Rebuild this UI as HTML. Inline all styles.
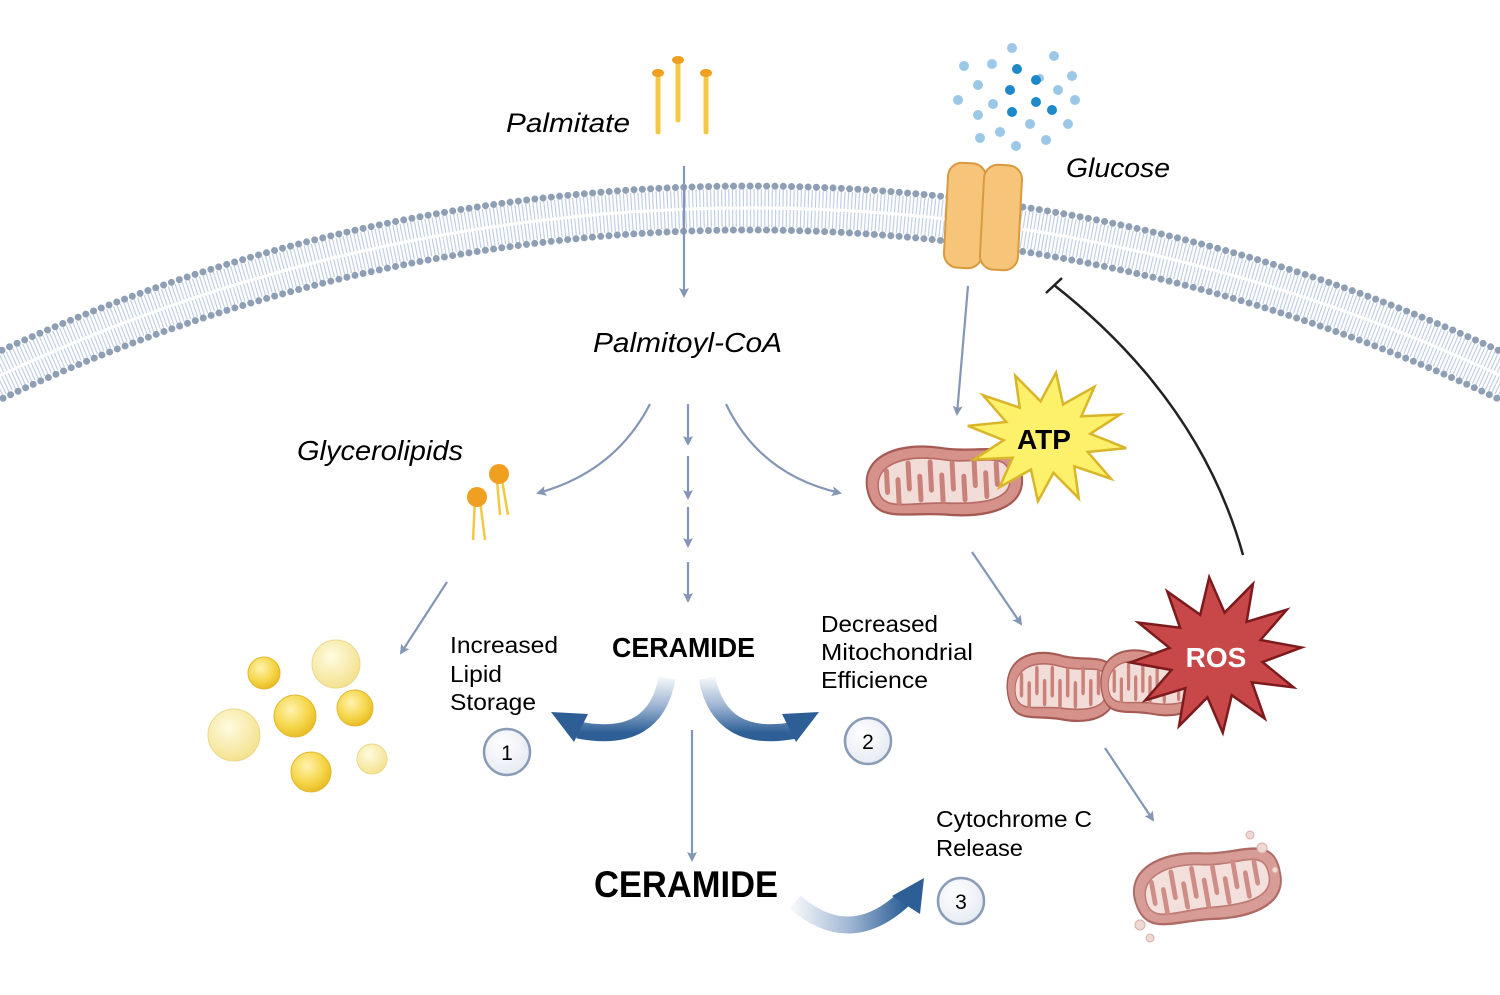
<!DOCTYPE html>
<html><head><meta charset="utf-8"><style>
html,body{margin:0;padding:0;background:#fff;width:1500px;height:995px;overflow:hidden;}
svg{display:block;font-family:"Liberation Sans",sans-serif;}
</style></head><body>
<svg width="1500" height="995" viewBox="0 0 1500 995" xmlns="http://www.w3.org/2000/svg">
<defs>
<marker id="ah" markerWidth="10" markerHeight="10" refX="8" refY="5" orient="auto" markerUnits="userSpaceOnUse">
<path d="M0,0 L10,5 L0,10 L2,5 Z" fill="#8496b5"/></marker>
<linearGradient id="g1" x1="0" y1="0" x2="0" y2="1"><stop offset="0" stop-color="#f3f6fa"/><stop offset="0.5" stop-color="#9fb6d3"/><stop offset="1" stop-color="#2d5f96"/></linearGradient>
<linearGradient id="g3" x1="0" y1="0" x2="1" y2="0"><stop offset="0" stop-color="#f3f6fa"/><stop offset="0.5" stop-color="#9fb6d3"/><stop offset="1" stop-color="#2d5f96"/></linearGradient>
<radialGradient id="yd" cx="0.4" cy="0.35" r="0.7"><stop offset="0" stop-color="#fff3b0"/><stop offset="0.6" stop-color="#f5d64a"/><stop offset="1" stop-color="#e6b820"/></radialGradient>
<radialGradient id="yl" cx="0.4" cy="0.35" r="0.7"><stop offset="0" stop-color="#fffbe0"/><stop offset="1" stop-color="#f3e08a"/></radialGradient>
<radialGradient id="nc" cx="0.4" cy="0.35" r="0.7"><stop offset="0" stop-color="#fff"/><stop offset="1" stop-color="#e4e9f2"/></radialGradient>
<g id="mito">
<path d="M-75,5 C-80,-25 -40,-35 0,-28 C40,-20 80,-35 80,0 C82,30 40,35 0,30 C-40,26 -70,35 -75,5 Z" fill="#d4928b" stroke="#a65a54" stroke-width="2"/>
<path d="M-64,5 C-66,-17 -36,-24 0,-18 C36,-11 68,-24 68,0 C70,22 36,23 0,20 C-36,18 -62,25 -64,5 Z" fill="#f2dcd8" stroke="#b86c65" stroke-width="1.5"/>
<g stroke="#c98179" stroke-width="5" stroke-linecap="round" fill="none">
<path d="M-55,-10 L-55,8 M-44,18 L-44,-2 M-33,-16 L-33,6 M-22,16 L-22,-4 M-11,-16 L-11,8 M0,18 L0,-4 M11,-14 L11,8 M22,18 L22,-2 M33,-16 L33,6 M44,16 L44,-4 M55,-12 L55,6"/>
</g>
</g>
</defs>

<circle cx="750" cy="1972" r="1764" fill="none" stroke="#c2cfe3" stroke-width="38" stroke-dasharray="1.2 2.4"/>
<circle cx="750" cy="1972" r="1764" fill="none" stroke="#fff" stroke-width="3"/>
<circle cx="750" cy="1972" r="1786" fill="none" stroke="#8e9fb5" stroke-width="7" stroke-linecap="round" stroke-dasharray="0 8.3"/>
<circle cx="750" cy="1972" r="1742" fill="none" stroke="#8e9fb5" stroke-width="7" stroke-linecap="round" stroke-dasharray="0 8.3"/>

<g stroke="#f5c842" stroke-width="5" stroke-linecap="round"><line x1="658" y1="74" x2="658" y2="132"/><line x1="678" y1="62" x2="678" y2="120"/><line x1="706" y1="74" x2="706" y2="132"/></g>
<g fill="#f0a020"><ellipse cx="658" cy="73" rx="6" ry="4"/><ellipse cx="678" cy="60" rx="6" ry="4"/><ellipse cx="706" cy="73" rx="6" ry="4"/></g>
<text x="506" y="132" font-size="27" font-style="italic" textLength="124" lengthAdjust="spacingAndGlyphs">Palmitate</text>

<g fill="#9cc8e8">
<circle cx="1012" cy="48" r="5"/><circle cx="1054" cy="56" r="5"/><circle cx="964" cy="66" r="5"/><circle cx="992" cy="64" r="5"/><circle cx="1072" cy="76" r="5"/><circle cx="978" cy="85" r="5"/><circle cx="1058" cy="90" r="5"/><circle cx="958" cy="100" r="5"/><circle cx="993" cy="104" r="5"/><circle cx="1075" cy="100" r="5"/><circle cx="978" cy="115" r="5"/><circle cx="1030" cy="124" r="5"/><circle cx="1068" cy="124" r="5"/><circle cx="1000" cy="132" r="5"/><circle cx="980" cy="138" r="5"/><circle cx="1046" cy="140" r="5"/><circle cx="1016" cy="146" r="5"/><circle cx="1040" cy="78" r="4"/>
</g>
<g fill="#1e88c8"><circle cx="1017" cy="69" r="5"/><circle cx="1036" cy="80" r="5"/><circle cx="1010" cy="90" r="5"/><circle cx="1036" cy="102" r="5"/><circle cx="1012" cy="112" r="5"/><circle cx="1052" cy="110" r="5"/></g>
<text x="1066" y="177" font-size="27" font-style="italic" textLength="104" lengthAdjust="spacingAndGlyphs">Glucose</text>

<rect x="946" y="163" width="38" height="105" rx="14" fill="#f7c57a" stroke="#d99a3f" stroke-width="2" transform="rotate(3 965 215)"/>
<rect x="982" y="165" width="38" height="105" rx="14" fill="#f7c57a" stroke="#d99a3f" stroke-width="2" transform="rotate(3 1001 217)"/>

<g stroke="#8496b5" stroke-width="2.2" fill="none" marker-end="url(#ah)">
<line x1="684" y1="166" x2="684" y2="296"/>
<line x1="688" y1="404" x2="688" y2="444"/>
<line x1="688" y1="456" x2="688" y2="498"/>
<line x1="688" y1="507" x2="688" y2="546"/>
<line x1="688" y1="562" x2="688" y2="601"/>
<path d="M650,404 Q615,472 538,493"/>
<path d="M726,404 Q760,475 840,493"/>
<line x1="968" y1="286" x2="957" y2="414"/>
<line x1="972" y1="552" x2="1021" y2="624"/>
<line x1="1105" y1="748" x2="1153" y2="820"/>
<line x1="447" y1="582" x2="401" y2="653"/>
<line x1="692" y1="730" x2="692" y2="860"/>
</g>
<path d="M1243,555 Q1200,400 1054,285" stroke="#222" stroke-width="2.5" fill="none"/>
<line x1="1046" y1="293" x2="1062" y2="278" stroke="#222" stroke-width="2.5"/>

<text x="593" y="352" font-size="28" font-style="italic" textLength="189" lengthAdjust="spacingAndGlyphs">Palmitoyl-CoA</text>
<text x="297" y="460" font-size="28" font-style="italic" textLength="166" lengthAdjust="spacingAndGlyphs">Glycerolipids</text>

<g stroke="#f5c842" stroke-width="2.5" fill="none"><path d="M475,500 L473,540 M480,500 L485,540 M497,480 L500,515 M502,480 L508,515"/></g>
<circle cx="477" cy="497" r="10" fill="#f0a020"/><circle cx="499" cy="474" r="10" fill="#f0a020"/>

<circle cx="336" cy="664" r="24" fill="url(#yl)" stroke="#ecd88a"/>
<circle cx="264" cy="673" r="16" fill="url(#yd)" stroke="#e0b830"/>
<circle cx="295" cy="716" r="21" fill="url(#yd)" stroke="#e0b830"/>
<circle cx="355" cy="708" r="18" fill="url(#yd)" stroke="#e0b830"/>
<circle cx="234" cy="735" r="26" fill="url(#yl)" stroke="#ecd88a"/>
<circle cx="311" cy="772" r="20" fill="url(#yd)" stroke="#e0b830"/>
<circle cx="372" cy="759" r="15" fill="url(#yl)" stroke="#ecd88a"/>

<use href="#mito" transform="translate(942,480) rotate(-3) scale(1,1.15)"/>
<polygon points="1,0 .531,.142 .866,.5 .389,.389 .5,.866 .142,.531 0,1 -.142,.531 -.5,.866 -.389,.389 -.866,.5 -.531,.142 -1,0 -.531,-.142 -.866,-.5 -.389,-.389 -.5,-.866 -.142,-.531 0,-1 .142,-.531 .5,-.866 .389,-.389 .866,-.5 .531,-.142" transform="translate(1047,437) rotate(8) scale(80,65)" fill="#fdf06a" stroke="#d9b52a" stroke-width="2.5" vector-effect="non-scaling-stroke"/>
<text x="1044" y="449" font-size="28" font-weight="bold" text-anchor="middle">ATP</text>

<use href="#mito" transform="translate(1060,686) scale(0.7,1.1)"/>
<use href="#mito" transform="translate(1150,682) scale(0.65,1.05)"/>
<polygon points="1,0 .531,.142 .866,.5 .389,.389 .5,.866 .142,.531 0,1 -.142,.531 -.5,.866 -.389,.389 -.866,.5 -.531,.142 -1,0 -.531,-.142 -.866,-.5 -.389,-.389 -.5,-.866 -.142,-.531 0,-1 .142,-.531 .5,-.866 .389,-.389 .866,-.5 .531,-.142" transform="translate(1216,655) rotate(-5) scale(86,78)" fill="#c8484a" stroke="#7d1a1d" stroke-width="2.5" vector-effect="non-scaling-stroke"/>
<text x="1216" y="667" font-size="28" font-weight="bold" fill="#fff" text-anchor="middle">ROS</text>

<use href="#mito" transform="translate(1205,885) rotate(-10) scale(0.95,1.15)" opacity="0.9"/>
<g fill="#f0d8d2" stroke="#d8b0a8"><circle cx="1140" cy="925" r="5"/><circle cx="1150" cy="938" r="4"/><circle cx="1262" cy="848" r="5"/><circle cx="1250" cy="835" r="4"/><circle cx="1275" cy="870" r="3"/></g>

<text x="612" y="657" font-size="28" font-weight="bold" textLength="143" lengthAdjust="spacingAndGlyphs">CERAMIDE</text>
<text x="594" y="897" font-size="37" font-weight="bold" textLength="184" lengthAdjust="spacingAndGlyphs">CERAMIDE</text>
<g font-size="23"><text x="450" y="653" textLength="108" lengthAdjust="spacingAndGlyphs">Increased</text><text x="450" y="682" textLength="52" lengthAdjust="spacingAndGlyphs">Lipid</text><text x="450" y="710" textLength="86" lengthAdjust="spacingAndGlyphs">Storage</text>
<text x="821" y="632" textLength="117" lengthAdjust="spacingAndGlyphs">Decreased</text><text x="821" y="660" textLength="152" lengthAdjust="spacingAndGlyphs">Mitochondrial</text><text x="821" y="688" textLength="107" lengthAdjust="spacingAndGlyphs">Efficience</text>
<text x="936" y="827" textLength="156" lengthAdjust="spacingAndGlyphs">Cytochrome C</text><text x="936" y="856" textLength="87" lengthAdjust="spacingAndGlyphs">Release</text></g>

<path d="M667,678 Q655,745 578,730" stroke="url(#g1)" stroke-width="17" fill="none"/>
<polygon points="551,712 588,714 574,742" fill="#2d5f96"/>
<path d="M707,678 Q720,745 796,730" stroke="url(#g1)" stroke-width="17" fill="none"/>
<polygon points="819,712 782,714 796,742" fill="#2d5f96"/>
<path d="M795,902 Q850,950 905,898" stroke="url(#g3)" stroke-width="17" fill="none"/>
<polygon points="924,878 920,914 892,896" fill="#2d5f96"/>

<g stroke="#8a9bb5" stroke-width="2.5" fill="url(#nc)"><circle cx="507" cy="752" r="23"/><circle cx="868" cy="741" r="23"/><circle cx="961" cy="901" r="23"/></g>
<g font-size="21" text-anchor="middle"><text x="507" y="760">1</text><text x="868" y="749">2</text><text x="961" y="909">3</text></g>
</svg>
</body></html>
